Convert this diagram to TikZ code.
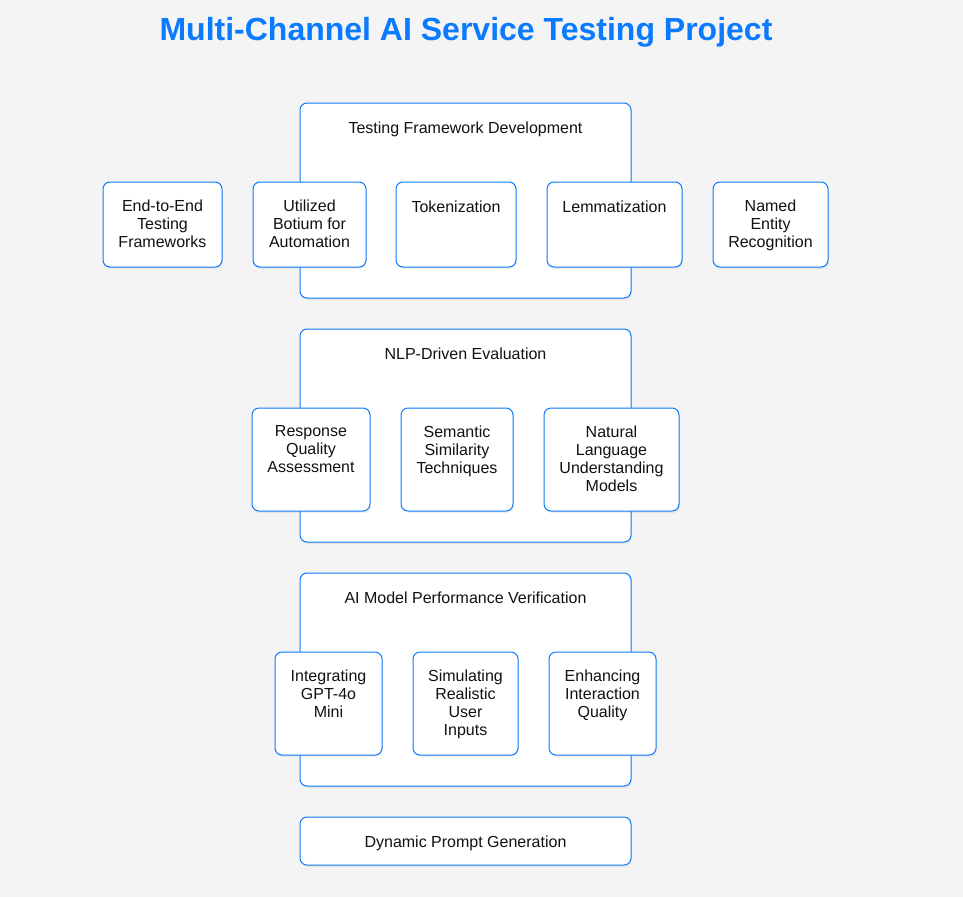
\documentclass[tikz,border=0pt]{standalone}
\usepackage{fontspec}
\setmainfont{Liberation Sans}
\usetikzlibrary{shadows}
\definecolor{bgc}{HTML}{F4F4F4}
\definecolor{blu}{HTML}{0A7BFF}
\definecolor{txt}{HTML}{111111}
\begin{document}
\begin{tikzpicture}[x=1pt,y=-1pt,
  boxbase/.style={draw=blu, fill=white, rounded corners=7pt, line width=1pt, inner sep=0pt,
    drop shadow={opacity=0.12, shadow xshift=1pt, shadow yshift=-2pt}},
  sec/.style={boxbase, minimum width=331pt},
  child/.style={boxbase},
  lbl/.style={text=txt, inner sep=0pt, align=center, font=\fontsize{16}{18}\selectfont, anchor=north,
    execute at begin node=\strut},
]
\fill[bgc] (0,0) rectangle (963,897);
\useasboundingbox (0,0) rectangle (963,897);

\node[text=blu, font=\fontsize{32}{36}\selectfont\bfseries, anchor=base, inner sep=0pt] (title) at (466,40.5) {Multi-Channel AI Service Testing Project};

% section boxes
\node[sec, minimum height=195pt] (s1) at (465.5,200.5) {};
\node[sec, minimum height=213pt] (s2) at (465.5,435.5) {};
\node[sec, minimum height=213pt] (s3) at (465.5,679.5) {};
\node[sec, minimum height=48pt] (s4) at (465.5,841) {};

\node[lbl] (s1t) at ([yshift=-18.2pt]s1.north) {Testing Framework Development};
\node[lbl] (s2t) at ([yshift=-18.2pt]s2.north) {NLP-Driven Evaluation};
\node[lbl] (s3t) at ([yshift=-18.2pt]s3.north) {AI Model Performance Verification};
\node[lbl] (s4t) at ([yshift=-18.2pt]s4.north) {Dynamic Prompt Generation};

% row 1
\node[child, minimum width=119pt, minimum height=85pt] (a1) at (162.5,224.5) {};
\node[child, minimum width=113pt, minimum height=85pt] (a2) at (309.5,224.5) {};
\node[child, minimum width=120pt, minimum height=85pt] (a3) at (456,224.5) {};
\node[child, minimum width=135pt, minimum height=85pt] (a4) at (614.5,224.5) {};
\node[child, minimum width=115pt, minimum height=85pt] (a5) at (770.5,224.5) {};
\node[lbl] (a1t) at ([yshift=-18.2pt]a1.north) {End-to-End\\Testing\\Frameworks};
\node[lbl] (a2t) at ([yshift=-18.2pt]a2.north) {Utilized\\Botium for\\Automation};
\node[lbl] (a3t) at ([yshift=-18.2pt]a3.north) {Tokenization};
\node[lbl] (a4t) at ([yshift=-18.2pt]a4.north) {Lemmatization};
\node[lbl] (a5t) at ([yshift=-18.2pt]a5.north) {Named\\Entity\\Recognition};

% row 2
\node[child, minimum width=118pt, minimum height=103pt] (b1) at (311,459.5) {};
\node[child, minimum width=112pt, minimum height=103pt] (b2) at (457,459.5) {};
\node[child, minimum width=135pt, minimum height=103pt] (b3) at (611.5,459.5) {};
\node[lbl] (b1t) at ([yshift=-18.2pt]b1.north) {Response\\Quality\\Assessment};
\node[lbl] (b2t) at ([yshift=-18.2pt]b2.north) {Semantic\\Similarity\\Techniques};
\node[lbl] (b3t) at ([yshift=-18.2pt]b3.north) {Natural\\Language\\Understanding\\Models};

% row 3
\node[child, minimum width=107pt, minimum height=103pt] (c1) at (328.5,703.5) {};
\node[child, minimum width=105pt, minimum height=103pt] (c2) at (465.5,703.5) {};
\node[child, minimum width=107pt, minimum height=103pt] (c3) at (602.5,703.5) {};
\node[lbl] (c1t) at ([yshift=-18.2pt]c1.north) {Integrating\\GPT-4o\\Mini};
\node[lbl] (c2t) at ([yshift=-18.2pt]c2.north) {Simulating\\Realistic\\User\\Inputs};
\node[lbl] (c3t) at ([yshift=-18.2pt]c3.north) {Enhancing\\Interaction\\Quality};
\end{tikzpicture}
\end{document}
